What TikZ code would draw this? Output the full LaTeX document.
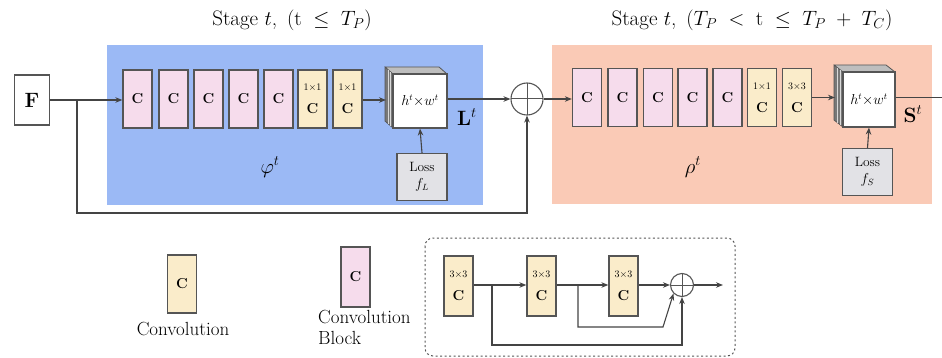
\documentclass[tikz,border=0pt]{standalone}
\usetikzlibrary{arrows.meta,calc}
\definecolor{bluebg}{RGB}{155,185,245}
\definecolor{salmonbg}{RGB}{250,202,182}
\definecolor{pinkbox}{RGB}{246,220,236}
\definecolor{yellowbox}{RGB}{250,236,202}
\definecolor{lossfill}{RGB}{226,226,230}
\definecolor{edgegray}{RGB}{85,85,85}
\definecolor{sidegray}{RGB}{120,120,120}
\definecolor{topgray}{RGB}{190,190,190}
\tikzset{
  every node/.style={font=\fontsize{19}{22}\selectfont},
  convbox/.style={draw=edgegray, line width=1.3pt, fill=#1, minimum width=29pt, minimum height=58pt, inner sep=0pt, align=center},
  lossbox/.style={draw=edgegray, line width=1.3pt, fill=lossfill, minimum width=50pt, minimum height=47pt, inner sep=0pt, align=center, font=\fontsize{13.5}{17}\selectfont},
  conn/.style={draw=edgegray!80!black, line width=1.1pt},
  arr/.style={conn, -{Stealth[length=7pt,width=5.5pt]}},
  sumnode/.style={circle, draw=edgegray, line width=1.1pt, minimum size=#1, inner sep=0pt,
    path picture={\draw[edgegray, line width=1pt] (path picture bounding box.north) -- (path picture bounding box.south)
      (path picture bounding box.west) -- (path picture bounding box.east);}},
  stagelab/.style={font=\fontsize{21}{24}\selectfont},
  cubeface/.style={draw=edgegray, line width=1.1pt, fill=white, inner sep=0pt, font=\fontsize{13.5}{15}\selectfont},
}
\newcommand{\ylab}[1]{{\fontsize{10}{11}\selectfont $#1$}\\[1pt]{\fontsize{14}{15}\selectfont $\mathbf{C}$}}
\newcommand{\pC}{{\fontsize{14}{15}\selectfont $\mathbf{C}$}}
\begin{document}
\begin{tikzpicture}[x=1pt,y=-1pt]
\useasboundingbox (0,0) rectangle (942,358);
% backgrounds
\fill[bluebg] (107,45) rectangle (483,205);
\fill[salmonbg] (552,45) rectangle (932,204);
\node[stagelab] (stage1) at (292,20) {Stage $t$, \,$(\mathrm{t}\;\leq\;T_P)$};
\node[stagelab] (stage2) at (752,20) {Stage $t$, \,$(T_P\;<\;\mathrm{t}\;\leq\;T_P\;+\;T_C)$};

% input
\node[draw=edgegray, line width=1.3pt, fill=white, minimum width=35pt, minimum height=50pt, inner sep=0pt, font=\fontsize{20}{22}\selectfont] (F) at (32,100) {$\mathbf{F}$};

% left row
\node[convbox=pinkbox] (l1) at (137.5,99) {\pC};
\node[convbox=pinkbox] (l2) at (173.5,99) {\pC};
\node[convbox=pinkbox] (l3) at (208.5,99) {\pC};
\node[convbox=pinkbox] (l4) at (243.5,99) {\pC};
\node[convbox=pinkbox] (l5) at (278.5,99) {\pC};
\node[convbox=yellowbox] (l6) at (312.5,99) {\ylab{1{\times}1}};
\node[convbox=yellowbox] (l7) at (347.5,99) {\ylab{1{\times}1}};

% left cube
\fill[sidegray] (385,67) -- (393,74) -- (393,128) -- (385,121) -- cycle;
\fill[topgray] (385,67) -- (439,67) -- (447,74) -- (393,74) -- cycle;
\draw[edgegray, line width=0.8pt] (385,67) -- (393,74) -- (393,128) -- (385,121) -- cycle
  (385,67) -- (439,67) -- (447,74);
\draw[white!70!gray, line width=0.5pt] (388,70) -- (388,124) (390.5,72) -- (390.5,126);
\node[cubeface, minimum width=54pt, minimum height=54pt] (cubeL) at (420,101) {$h^t{\times}w^t$};
\coordinate (cubeLin) at (386,100);
\node[font=\fontsize{20}{22}\selectfont] (Lt) at (467,117) {$\mathbf{L}^t$};
\node[lossbox] (lossL) at (422,177) {Loss\\$f_L$};
\node[font=\fontsize{22}{24}\selectfont] (phi) at (270,167) {$\varphi^t$};

% plus
\node[sumnode=32pt] (plus) at (527,99) {};

% right row
\node[convbox=pinkbox] (r1) at (587,97.5) {\pC};
\node[convbox=pinkbox] (r2) at (622.5,97.5) {\pC};
\node[convbox=pinkbox] (r3) at (658,97.5) {\pC};
\node[convbox=pinkbox] (r4) at (692.5,97.5) {\pC};
\node[convbox=pinkbox] (r5) at (727.5,97.5) {\pC};
\node[convbox=yellowbox] (r6) at (762,97.5) {\ylab{1{\times}1}};
\node[convbox=yellowbox] (r7) at (797,97.5) {\ylab{3{\times}3}};

% right cube
\fill[sidegray] (834,65) -- (843,72) -- (843,127) -- (834,120) -- cycle;
\fill[topgray] (834,65) -- (886,65) -- (895,72) -- (843,72) -- cycle;
\draw[edgegray, line width=0.8pt] (834,65) -- (843,72) -- (843,127) -- (834,120) -- cycle
  (834,65) -- (886,65) -- (895,72);
\draw[white!70!gray, line width=0.5pt] (837,68) -- (837,123) (840,70) -- (840,125);
\node[cubeface, minimum width=52pt, minimum height=55pt] (cubeR) at (869,99.5) {$h^t{\times}w^t$};
\coordinate (cubeRin) at (835,97.5);
\node[font=\fontsize{20}{22}\selectfont] (St) at (913,114) {$\mathbf{S}^t$};
\node[lossbox] (lossR) at (867.5,172) {Loss\\$f_S$};
\node[font=\fontsize{22}{24}\selectfont] (rho) at (693,167) {$\rho^t$};
\coordinate (out) at (942,97.5);

% connectors top
\coordinate (br) at (77,100);
\draw[arr] (F.east |- br) -- (l1.west |- br);
\draw[arr] (br) -- (77,213) -- (plus.south |- 0,213) -- (plus.south);
\draw[arr] (l7.east |- 0,100) -- (cubeLin);
\draw[arr] (cubeL.east |- 0,99) -- (plus.west);
\draw[arr] (lossL.north) -- (cubeL.south);
\draw[arr] (plus.east) -- (r1.west |- plus.east);
\draw[arr] (r7.east) -- (cubeRin);
\draw[conn] (cubeR.east |- out) -- (out);
\draw[arr] (lossR.north) -- (cubeR.south);

% legend
\node[convbox=yellowbox, minimum height=58pt] (legC) at (182,284) {\pC};
\node (legCl) at (183,329) {Convolution};
\node[convbox=pinkbox, minimum height=60pt] (legB) at (355.5,277) {\pC};
\node[anchor=north west, align=left, inner sep=0pt, font=\fontsize{19}{21}\selectfont] (legBl) at (318,310) {Convolution\\Block};

\draw[edgegray, line width=1pt, dash pattern=on 2pt off 2.5pt, rounded corners=8pt] (425,238) rectangle (735,356);
\node[convbox=yellowbox, minimum height=60pt] (b1) at (458.5,286) {\ylab{3{\times}3}};
\node[convbox=yellowbox, minimum height=60pt] (b2) at (541.5,286) {\ylab{3{\times}3}};
\node[convbox=yellowbox, minimum height=60pt] (b3) at (623.5,286) {\ylab{3{\times}3}};
\node[sumnode=23pt] (bsum) at (682,285) {};
\coordinate (bout) at (723,285);
\coordinate (bb1) at (492,285);
\coordinate (bb2) at (578,285);
\draw[arr] (b1.east |- bb1) -- (b2.west |- bb1);
\draw[arr] (b2.east |- bb2) -- (b3.west |- bb2);
\draw[arr] (b3.east |- bsum) -- (bsum.west);
\draw[arr] (bsum.east) -- (bout);
\draw[arr] (bb1) -- (492,345) -- (bsum.south |- 0,345) -- (bsum.south);
\draw[arr] (bb2) -- (578,327) -- (663,327) -- (bsum.south west);
\end{tikzpicture}
\end{document}
